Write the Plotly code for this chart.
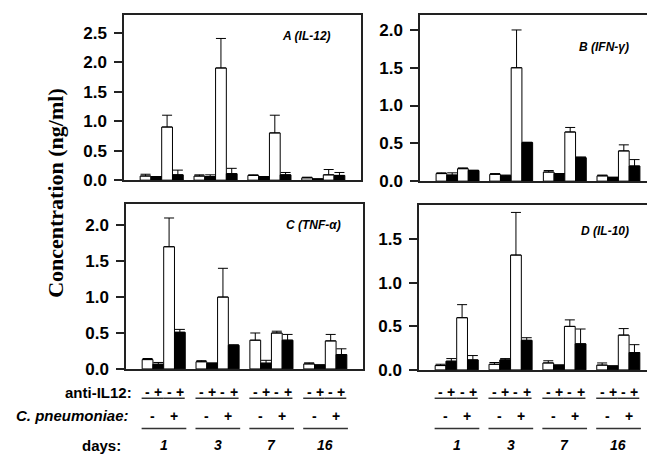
import plotly.graph_objects as go

# ---------------- data ----------------
DAYS = ["1", "3", "7", "16"]
ANTI_IL12 = ["-", "+", "-", "+"]          # per bar inside a day group
C_PNEUMONIAE = ["-", "+"]                 # per pair inside a day group
BAR_FILL = ["white", "black", "white", "black"]

IL12 = [0.07, 0.06, 0.90, 0.09, 0.07, 0.06, 1.90, 0.11, 0.08, 0.06, 0.80, 0.09, 0.04, 0.02, 0.09, 0.08]
IL12_SD = [0.03, 0.0, 0.20, 0.08, 0.02, 0.03, 0.50, 0.09, 0.01, 0.0, 0.30, 0.04, 0.01, 0.0, 0.09, 0.05]

IFNG = [0.10, 0.08, 0.165, 0.14, 0.09, 0.07, 1.50, 0.51, 0.12, 0.10, 0.65, 0.31, 0.07, 0.05, 0.40, 0.20]
IFNG_SD = [0.01, 0.03, 0.01, 0.005, 0.01, 0.01, 0.50, 0.005, 0.02, 0.0, 0.06, 0.01, 0.01, 0.0, 0.08, 0.085]

TNFA = [0.13, 0.065, 1.70, 0.51, 0.10, 0.08, 1.00, 0.33, 0.40, 0.08, 0.50, 0.40, 0.07, 0.055, 0.39, 0.20]
TNFA_SD = [0.015, 0.025, 0.40, 0.04, 0.015, 0.0, 0.40, 0.005, 0.10, 0.04, 0.025, 0.08, 0.015, 0.0, 0.09, 0.08]

IL10 = [0.05, 0.10, 0.60, 0.115, 0.065, 0.115, 1.32, 0.34, 0.08, 0.055, 0.50, 0.30, 0.055, 0.045, 0.40, 0.20]
IL10_SD = [0.015, 0.03, 0.15, 0.05, 0.02, 0.015, 0.49, 0.03, 0.025, 0.0, 0.075, 0.17, 0.025, 0.0, 0.075, 0.09]

PANELS = [
    ("A (IL-12)", IL12, IL12_SD, 2.8, [0, 0.5, 1.0, 1.5, 2.0, 2.5]),
    ("B (IFN-γ)", IFNG, IFNG_SD, 2.2, [0, 0.5, 1.0, 1.5, 2.0]),
    ("C (TNF-α)", TNFA, TNFA_SD, 2.3, [0, 0.5, 1.0, 1.5, 2.0]),
    ("D (IL-10)", IL10, IL10_SD, 1.9, [0, 0.5, 1.0, 1.5]),
]

# ---------------- layout helpers ----------------
W, H = 655, 457
def PX(x):
    return x / W
def PY(y):
    return 1 - y / H

GROUP_STEP = 5
xpos = [g * GROUP_STEP + j for g in range(len(DAYS)) for j in range(len(ANTI_IL12))]
colors = [BAR_FILL[j] for g in range(len(DAYS)) for j in range(len(ANTI_IL12))]

# panel boxes in pixels: (left, right, top, zero-line)
BOXES = [(116, 353, 7, 176), (412, 648, 7, 177), (118, 355, 200, 369), (411, 648, 201, 370)]
TITLE_POS = [(325, 29), (623, 40), (335, 222), (623, 228)]

FONT = "Liberation Sans, Arial, sans-serif"

fig = go.Figure()
layout = dict(
    width=W, height=H,
    margin=dict(l=0, r=0, t=0, b=0),
    paper_bgcolor="white", plot_bgcolor="white",
    showlegend=False,
    font=dict(family=FONT, color="black"),
    annotations=[], shapes=[],
)

for i, (title, vals, sd, ymax, ticks) in enumerate(PANELS):
    n = i + 1
    xa = "x" if n == 1 else f"x{n}"
    ya = "y" if n == 1 else f"y{n}"
    fig.add_trace(go.Bar(
        x=xpos, y=vals, width=1.0,
        marker=dict(color=colors, line=dict(color="black", width=1)),
        error_y=dict(type="data", array=sd, arrayminus=[0] * len(sd), symmetric=False,
                     color="black", thickness=1, width=5),
        xaxis=xa, yaxis=ya,
    ))
    l, r, t, z = BOXES[i]
    layout["xaxis" if n == 1 else f"xaxis{n}"] = dict(
        domain=[PX(l), PX(r)], range=[-2, 20], anchor=ya,
        showticklabels=False, ticks="", showgrid=False, zeroline=False,
        showline=True, mirror=True, linecolor="#222", linewidth=1.5,
    )
    layout["yaxis" if n == 1 else f"yaxis{n}"] = dict(
        domain=[PY(z), PY(t)], range=[0, ymax], anchor=xa,
        tickvals=ticks, tickformat=".1f", ticks="outside", ticklen=8, tickwidth=1.5,
        tickcolor="#222", ticklabelstandoff=4,
        tickfont=dict(family=FONT, size=17, weight="bold", color="black"),
        showgrid=False, zeroline=False,
        showline=True, mirror=True, linecolor="#222", linewidth=1.5,
    )
    tx, ty = TITLE_POS[i]
    layout["annotations"].append(dict(
        text=f"<b><i>{title}</i></b>", x=PX(tx), y=PY(ty), xref="paper", yref="paper",
        xanchor="right", yanchor="middle", showarrow=False,
        font=dict(family=FONT, size=12, color="black"),
    ))

# ---------------- condition labels under panels C and D ----------------
ROW_ANTI, LINE_ANTI, ROW_CPN, LINE_CPN, ROW_DAY = 393, 399, 417, 430, 447
LINE_COLOR = "#333"
for n in (3, 4):
    xr = f"x{n}"
    for g, day in enumerate(DAYS):
        base = g * GROUP_STEP
        for j, s in enumerate(ANTI_IL12):
            layout["annotations"].append(dict(
                text=f"<b>{s}</b>", x=base + j, y=PY(ROW_ANTI), xref=xr, yref="paper",
                xanchor="center", yanchor="middle", showarrow=False,
                font=dict(family=FONT, size=14, color="black"),
            ))
        for p, s in enumerate(C_PNEUMONIAE):
            layout["shapes"].append(dict(
                type="line", xref=xr, yref="paper",
                x0=base + 2 * p - 0.55, x1=base + 2 * p + 1.45,
                y0=PY(LINE_ANTI), y1=PY(LINE_ANTI),
                line=dict(color=LINE_COLOR, width=1.5),
            ))
            layout["annotations"].append(dict(
                text=f"<b>{s}</b>", x=base + 2 * p + 0.5, y=PY(ROW_CPN), xref=xr, yref="paper",
                xanchor="center", yanchor="middle", showarrow=False,
                font=dict(family=FONT, size=14, color="black"),
            ))
        layout["shapes"].append(dict(
            type="line", xref=xr, yref="paper",
            x0=base - 0.55, x1=base + 3.6, y0=PY(LINE_CPN), y1=PY(LINE_CPN),
            line=dict(color=LINE_COLOR, width=1.5),
        ))
        layout["annotations"].append(dict(
            text=f"<b><i>{day}</i></b>", x=base + 1.5, y=PY(ROW_DAY), xref=xr, yref="paper",
            xanchor="center", yanchor="middle", showarrow=False,
            font=dict(family=FONT, size=14, color="black"),
        ))

ROW_LABELS = [("<b>anti-IL12:</b>", 126, ROW_ANTI), ("<b><i>C. pneumoniae:</i></b>", 123, ROW_CPN),
              ("<b>days:</b>", 115, ROW_DAY)]
for txt, xr_px, y_px in ROW_LABELS:
    layout["annotations"].append(dict(
        text=txt, x=PX(xr_px), y=PY(y_px), xref="paper", yref="paper",
        xanchor="right", yanchor="middle", showarrow=False,
        font=dict(family=FONT, size=15, color="black"),
    ))

# y-axis title
layout["annotations"].append(dict(
    text="<b>Concentration (ng/ml)</b>", x=PX(48), y=PY(189), xref="paper", yref="paper",
    xanchor="center", yanchor="middle", textangle=-90, showarrow=False,
    font=dict(family="Liberation Serif, Times New Roman, serif", size=22, color="black"),
))

fig.update_layout(**layout)
fig.write_html("out.html")
